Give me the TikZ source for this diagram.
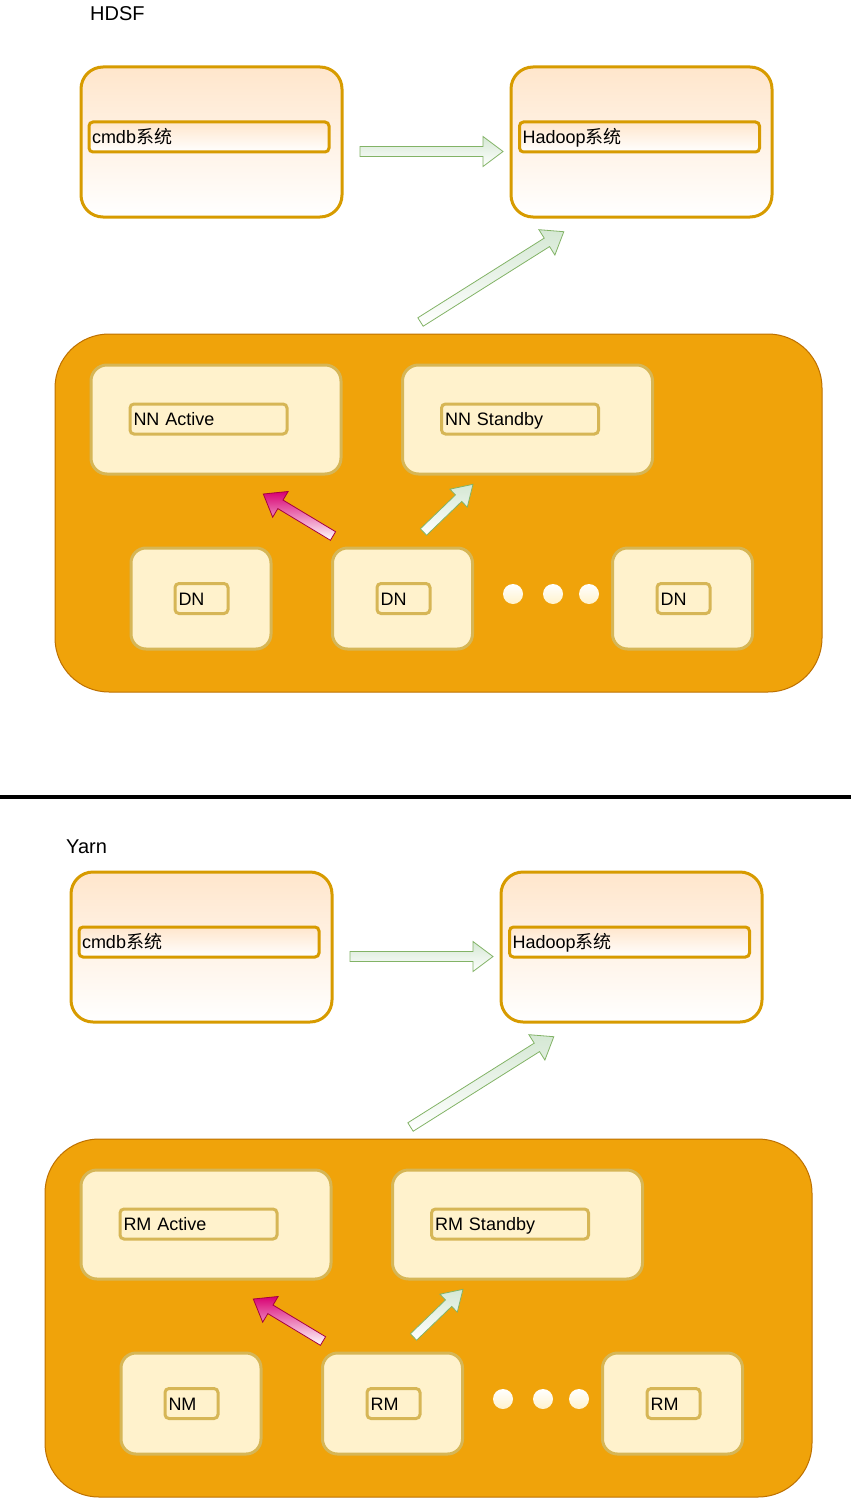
\documentclass[tikz,border=0pt]{standalone}
\usepackage{fontspec}
\setmainfont{Liberation Sans}
\newfontfamily\cjk{Noto Sans CJK SC}
\usetikzlibrary{calc}

\definecolor{sysline}{HTML}{D79B00}
\definecolor{sysfill}{HTML}{FFE6CC}
\definecolor{clusterfill}{HTML}{F0A30A}
\definecolor{clusterline}{HTML}{BD7000}
\definecolor{hostfill}{HTML}{FFF2CC}
\definecolor{hostline}{HTML}{D6B656}
\definecolor{greenfill}{HTML}{D5E8D4}
\definecolor{greenline}{HTML}{82B366}
\definecolor{pinkfill}{HTML}{D80073}
\definecolor{pinkline}{HTML}{A50040}

% style, tail, tip, half shaft, half head, head length
\newcommand{\blockarrow}[6]{%
  \coordinate (ba) at ($(#3)!#6!(#2)$);
  \path[#1] ($(#2)!#4!90:(#3)$) -- ($(ba)!#4!90:(#3)$) -- ($(ba)!#5!90:(#3)$) -- (#3)
    -- ($(ba)!#5!-90:(#3)$) -- ($(ba)!#4!-90:(#3)$) -- ($(#2)!#4!-90:(#3)$) -- cycle;}

\begin{document}
\begin{tikzpicture}[x=1pt,y=-1pt,font=\fontsize{18}{22}\selectfont,
    sysbox/.style={draw=sysline,line width=3pt,rounded corners=22pt,top color=sysfill,bottom color=white,minimum width=261pt,minimum height=150pt,inner sep=0pt},
    syslabel/.style={draw=sysline,line width=3pt,rounded corners=4pt,top color=sysfill,bottom color=white,minimum height=30pt,text width=234pt,text height=13pt,text depth=0pt,align=left,inner xsep=3pt,inner ysep=0pt},
    cluster/.style={draw=clusterline,line width=1pt,rounded corners=54pt,fill=clusterfill,minimum width=767pt,minimum height=358pt},
    hostbox/.style={draw=hostline,line width=3pt,rounded corners=16pt,fill=hostfill,minimum width=250pt,minimum height=109pt},
    workbox/.style={draw=hostline,line width=3pt,rounded corners=15pt,fill=hostfill,minimum width=140pt,minimum height=101pt},
    roletag/.style={draw=hostline,line width=3pt,rounded corners=4pt,fill=hostfill,minimum height=30pt,text width=150pt,text height=13pt,text depth=0pt,align=left,inner xsep=3.5pt,inner ysep=0pt},
    worktag/.style={roletag,text width=46pt},
    moredot/.style={circle,minimum size=20pt,inner sep=0pt,top color=white,bottom color=hostfill},
    title/.style={anchor=west,inner sep=0pt,font=\fontsize{20}{24}\selectfont},
    greenarrow/.style={draw=greenline,line width=0.8pt,top color=greenfill,bottom color=white},
    pinkarrow/.style={draw=pinkline,line width=0.8pt,top color=pinkfill,bottom color=white}]
                \useasboundingbox (0,0) rectangle (855,1498);

                % HDSF
                \node[title](hdsf)at(90, 14){HDSF};
                \node[sysbox](cmdb)at(211.5, 142){};
                \node[syslabel](cmdbL)at(209, 137){cmdb{\cjk 系统}};
                \node[sysbox](hadoop)at(641.5, 142){};
                \node[syslabel](hadoopL)at(639.5, 137){Hadoop{\cjk 系统}};
                \node[cluster](hdfs)at(438.5, 513){};
                \node[hostbox](nn1)at(216, 419.5){};
                \node[roletag](nn1L)at(208.5, 419){NN Active};
                \node[hostbox](nn2)at(527.5, 419.5){};
                \node[roletag](nn2L)at(520, 419){NN Standby};
                \node[workbox](dn1)at(201, 598.5){};
                \node[worktag](dn1L)at(201.5, 598.5){DN};
                \node[workbox](dn2)at(402.5, 598.5){};
                \node[worktag](dn2L)at(403.5, 598.5){DN};
                \node[workbox](dn3)at(682.5, 598.5){};
                \node[worktag](dn3L)at(683.5, 598.5){DN};
                \node[moredot](d1)at(513, 594){};
                \node[moredot](d2)at(553, 594){};
                \node[moredot](d3)at(589, 594){};

                \coordinate(a1t)at(360, 151.5);
                \coordinate(a1h)at(503, 151.5);
                \coordinate(a2t)at(420.5, 322);
                \coordinate(a2h)at(563.8, 231.7);
                \coordinate(a3t)at(333, 536);
                \coordinate(a3h)at(263.3, 494);
                \coordinate(a4t)at(423.5, 532);
                \coordinate(a4h)at(473, 484.3);
                \blockarrow{greenarrow}{a1t}{a1h}{5pt}{15pt}{20pt}
                \blockarrow{greenarrow}{a2t}{a2h}{5pt}{15pt}{20pt}
                \blockarrow{pinkarrow}{a3t}{a3h}{5pt}{15pt}{20pt}
                \blockarrow{greenarrow}{a4t}{a4h}{4.5pt}{12.5pt}{20pt}

                \coordinate(sepL)at(0, 797);
                \coordinate(sepR)at(851, 797);
                \draw[line width=4pt](sepL) -- (sepR);

                % Yarn
                \node[title](yarn)at(66, 847){Yarn};
                \node[sysbox](cmdb_)at(201.5, 947){};
                \node[syslabel](cmdbL_)at(199, 942){cmdb{\cjk 系统}};
                \node[sysbox](hadoop_)at(631.5, 947){};
                \node[syslabel](hadoopL_)at(629.5, 942){Hadoop{\cjk 系统}};
                \node[cluster](yarnc)at(428.5, 1318){};
                \node[hostbox](rm1)at(206, 1224.5){};
                \node[roletag](rm1L)at(198.5, 1224){RM Active};
                \node[hostbox](rm2)at(517.5, 1224.5){};
                \node[roletag](rm2L)at(510, 1224){RM Standby};
                \node[workbox](nm1)at(191, 1403.5){};
                \node[worktag](nm1L)at(191.5, 1403.5){NM};
                \node[workbox](nm2)at(392.5, 1403.5){};
                \node[worktag](nm2L)at(393.5, 1403.5){RM};
                \node[workbox](nm3)at(672.5, 1403.5){};
                \node[worktag](nm3L)at(673.5, 1403.5){RM};
                \node[moredot](d1_)at(503, 1399){};
                \node[moredot](d2_)at(543, 1399){};
                \node[moredot](d3_)at(579, 1399){};

                \coordinate(b1t)at(350, 956.5);
                \coordinate(b1h)at(493, 956.5);
                \coordinate(b2t)at(410.5, 1127);
                \coordinate(b2h)at(553.8, 1036.7);
                \coordinate(b3t)at(323, 1341);
                \coordinate(b3h)at(253.3, 1299);
                \coordinate(b4t)at(413.5, 1337);
                \coordinate(b4h)at(463, 1289.3);
                \blockarrow{greenarrow}{b1t}{b1h}{5pt}{15pt}{20pt}
                \blockarrow{greenarrow}{b2t}{b2h}{5pt}{15pt}{20pt}
                \blockarrow{pinkarrow}{b3t}{b3h}{5pt}{15pt}{20pt}
                \blockarrow{greenarrow}{b4t}{b4h}{4.5pt}{12.5pt}{20pt}
            \end{tikzpicture}
\end{document}
